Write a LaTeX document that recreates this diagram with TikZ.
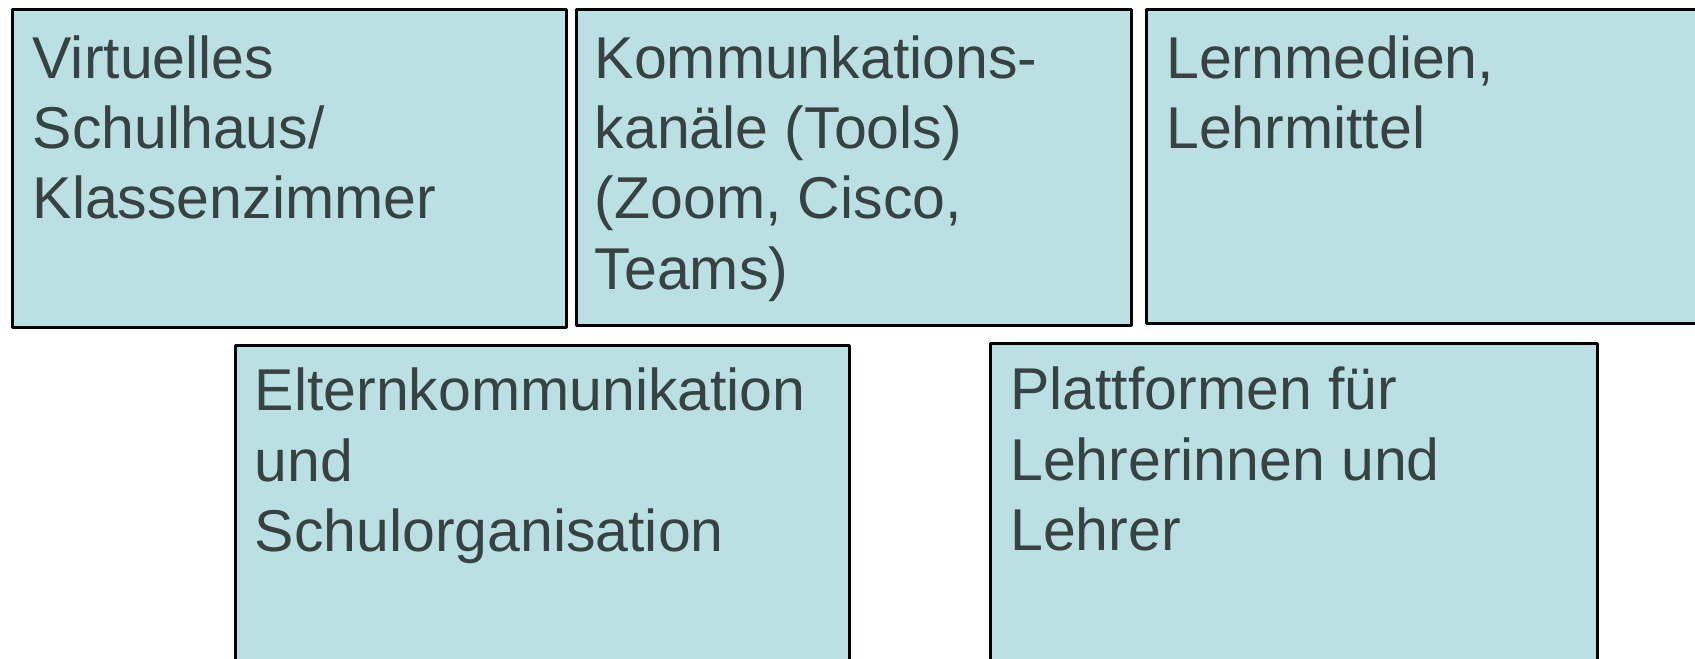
\documentclass[tikz,border=0pt]{standalone}
\usepackage{fontspec}
\setmainfont{Liberation Sans}
\definecolor{tileblue}{RGB}{186,224,227}
\definecolor{inkgrey}{RGB}{56,66,66}
\begin{document}
\begin{tikzpicture}[>=latex,line join=bevel,
  tile/.style={draw=black,line width=2.6bp,fill=tileblue,rectangle,anchor=north west,inner sep=0pt},
  tiletext/.style={anchor=north west,inner sep=0pt,align=left,text=inkgrey,
    font=\fontsize{59bp}{70.2bp}\selectfont,execute at begin node={\rule{0pt}{48bp}}},]
%%
\clip (0bp,0bp) rectangle (1695bp,659bp);
\node (virt_schulhaus) at (11bp,651bp) [tile,minimum width=554bp,minimum height=318bp] {};
  \node (kommunikation) at (575bp,651bp) [tile,minimum width=555bp,minimum height=316bp] {};
  \node (lernmedien) at (1145bp,651bp) [tile,minimum width=570bp,minimum height=314bp] {};
  \node (eltern_komm) at (234bp,315bp) [tile,minimum width=614bp,minimum height=340bp] {};
  \node (plattformen) at (989bp,317bp) [tile,minimum width=607bp,minimum height=340bp] {};
  \node (virt_schulhaus_text) at (32.5bp,623.5bp) [tiletext] {Virtuelles\\Schulhaus/\\Klassenzimmer};
  \node (kommunikation_text) at (594.5bp,623.5bp) [tiletext] {Kommunkations-\\kanäle (Tools)\\(Zoom, Cisco,\\Teams)};
  \node (lernmedien_text) at (1166bp,623.5bp) [tiletext] {Lernmedien,\\Lehrmittel};
  \node (eltern_komm_text) at (254.5bp,291bp) [tiletext] {Elternkommunikation\\und\\Schulorganisation};
  \node (plattformen_text) at (1010bp,292bp) [tiletext] {Plattformen für\\Lehrerinnen und\\Lehrer};
%
\end{tikzpicture}
\end{document}
